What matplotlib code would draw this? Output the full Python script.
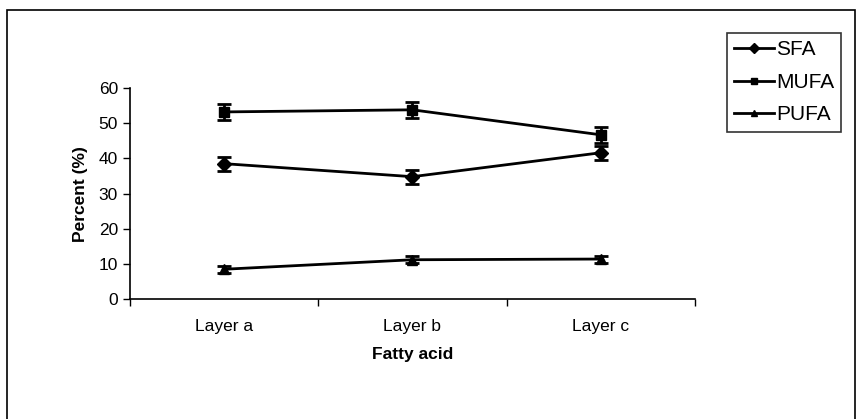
import matplotlib
matplotlib.use("Agg")
import matplotlib.pyplot as plt
from matplotlib.patches import Rectangle
from matplotlib.lines import Line2D

plt.rcParams['font.family'] = ['Liberation Sans', 'DejaVu Sans']

layers = ["Layer a", "Layer b", "Layer c"]
sfa = [38.5, 34.8, 41.6]
sfa_err = [2.0, 2.0, 2.0]
mufa = [53.2, 53.8, 46.7]
mufa_err = [2.2, 2.2, 2.2]
pufa = [8.5, 11.2, 11.4]
pufa_err = [1.0, 1.0, 1.0]

fig = plt.figure(figsize=(8.6, 4.19), dpi=100)
ax = fig.add_axes([0.151, 0.286, 0.657, 0.504])

x = list(range(len(layers)))
series = [("SFA", sfa, sfa_err, "D"), ("MUFA", mufa, mufa_err, "s"), ("PUFA", pufa, pufa_err, "^")]
handles = []
for name, vals, errs, mk in series:
    ax.errorbar(x, vals, yerr=errs, color="black", marker=mk, markersize=7, linewidth=2,
                elinewidth=2, capsize=5, capthick=2)
    handles.append(Line2D([], [], color="black", marker=mk, markersize=5, linewidth=2, label=name))

ax.set_xlim(-0.5, 2.5)
ax.set_ylim(0, 60)
ax.set_yticks(range(0, 61, 10))
ax.set_xticks([-0.5, 0.5, 1.5, 2.5])
ax.set_xticklabels([])
ax.set_xticks(x, minor=True)
ax.set_xticklabels(layers, minor=True, fontsize=12.5)
ax.tick_params(axis="x", which="minor", length=0, pad=14)
ax.tick_params(axis="x", which="major", direction="out", length=5, width=1)
ax.tick_params(axis="y", direction="out", length=5, width=1, labelsize=12.5)
for s in ["top", "right"]:
    ax.spines[s].set_visible(False)
ax.spines["left"].set_linewidth(1.2)
ax.spines["bottom"].set_linewidth(1.2)

ax.set_xlabel("Fatty acid", fontsize=12.5, fontweight="bold", labelpad=10)
ax.set_ylabel("Percent (%)", fontsize=12.5, fontweight="bold", labelpad=8)

leg = fig.legend(handles=handles, loc="upper left", bbox_to_anchor=(727 / 860, 1 - 33 / 419),
                 borderaxespad=0, fontsize=15, frameon=True, fancybox=False, handlelength=1.9,
                 handletextpad=0.1, borderpad=0.35, labelspacing=0.65, edgecolor="black")
leg.get_frame().set_linewidth(1.2)

fig.patches.append(Rectangle((7 / 860, -0.01), 848 / 860, 1 - 10 / 419 + 0.01,
                             transform=fig.transFigure, fill=False, edgecolor="black", linewidth=1.2))

fig.savefig("out.png", dpi=100)
